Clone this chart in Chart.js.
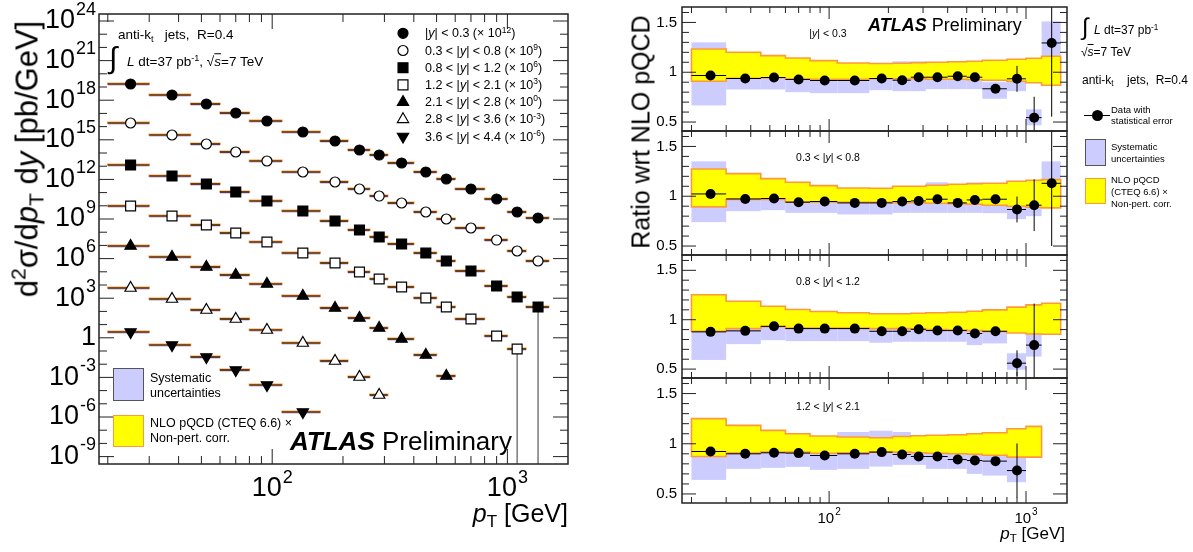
<!DOCTYPE html>
<html>
<head>
<meta charset="utf-8">
<script src="https://cdn.jsdelivr.net/npm/chart.js"></script>
<style>
body { margin: 0; background: #fff; width: 1193px; height: 552px; overflow: hidden; position: relative;
  font-family: "Liberation Sans", Arial, Helvetica, sans-serif; color: #000; }
canvas { position: absolute; }
.t { position: absolute; white-space: pre; line-height: 1; transform: translateY(-50%); }
.rot { position: absolute; white-space: pre; line-height: 1; transform: translate(-50%, -50%) rotate(-90deg); }
sup, sub { font-size: 68%; line-height: 0; position: relative; vertical-align: baseline; }
sup { top: -0.55em; }
sub { top: 0.3em; }
.ol { text-decoration: overline; }
.box { position: absolute; box-sizing: border-box; }
</style>
</head>
<body>
<canvas id="spectra_chart" width="600" height="552" style="left:0;top:0"></canvas>
<canvas id="ratio_chart_0" width="440" height="552" style="left:640px;top:0"></canvas>
<canvas id="ratio_chart_1" width="440" height="552" style="left:640px;top:0"></canvas>
<canvas id="ratio_chart_2" width="440" height="552" style="left:640px;top:0"></canvas>
<canvas id="ratio_chart_3" width="440" height="552" style="left:640px;top:0"></canvas>

<!-- left plot texts -->
<div class="rot" style="left:27px;top:159px;font-size:31px">d<sup>2</sup>σ/d<i>p</i><sub>T</sub> d<i>y</i> [pb/GeV]</div>
<div class="t" style="left:568px;top:513px;font-size:25px;transform:translate(-100%,-50%)"><i>p</i><sub>T</sub> [GeV]</div>
<div class="t" style="left:118px;top:35px;font-size:13.5px">anti-k<sub>t</sub>   jets,  R=0.4</div>
<div class="t" style="left:109px;top:58px;font-size:30px">∫</div>
<div class="t" style="left:127px;top:62px;font-size:13.5px"><i>L</i> dt=37 pb<sup>-1</sup>, √<span class="ol"><i>s</i></span>=7 TeV</div>
<div id="spectra_legend"></div>
<div class="box" style="left:113px;top:368px;width:31px;height:33px;background:#ccccff;border:1px solid #555"></div>
<div class="t" style="left:150px;top:378px;font-size:12.5px">Systematic</div>
<div class="t" style="left:150px;top:393px;font-size:12.5px">uncertainties</div>
<div class="box" style="left:113px;top:415px;width:31px;height:32px;background:#ffff00;border:1.5px solid #ff9a3c"></div>
<div class="t" style="left:150px;top:423px;font-size:12.5px">NLO pQCD (CTEQ 6.6) ×</div>
<div class="t" style="left:150px;top:438px;font-size:12.5px">Non-pert. corr.</div>
<div class="t" style="left:290px;top:441px;font-size:26px"><b><i>ATLAS</i></b> Preliminary</div>

<!-- right plot texts -->
<div class="rot" style="left:641px;top:132px;font-size:25px">Ratio wrt NLO pQCD</div>
<div id="panel_labels"></div>
<div class="t" style="left:868px;top:25px;font-size:18px"><b><i>ATLAS</i></b> Preliminary</div>
<div class="t" style="left:1082px;top:27px;font-size:24px">∫</div>
<div class="t" style="left:1094px;top:30px;font-size:12px"><i>L</i> dt=37 pb<sup>-1</sup></div>
<div class="t" style="left:1081px;top:52px;font-size:12px">√<span class="ol"><i>s</i></span>=7 TeV</div>
<div class="t" style="left:1082px;top:80px;font-size:12px">anti-k<sub>t</sub>    jets,  R=0.4</div>
<div class="box" style="left:1084px;top:115px;width:26px;height:1px;background:#000"></div>
<div class="box" style="left:1092px;top:110px;width:11px;height:11px;border-radius:50%;background:#000"></div>
<div class="t" style="left:1111px;top:110px;font-size:9.5px">Data with</div>
<div class="t" style="left:1111px;top:121px;font-size:9.5px">statistical error</div>
<div class="box" style="left:1085px;top:139px;width:21px;height:27px;background:#ccccff;border:1px solid #555"></div>
<div class="t" style="left:1111px;top:147px;font-size:9.5px">Systematic</div>
<div class="t" style="left:1111px;top:159px;font-size:9.5px">uncertainties</div>
<div class="box" style="left:1085px;top:178px;width:21px;height:26px;background:#ffff00;border:1.5px solid #ff9a3c"></div>
<div class="t" style="left:1111px;top:180px;font-size:9.5px">NLO pQCD</div>
<div class="t" style="left:1111px;top:192px;font-size:9.5px">(CTEQ 6.6) ×</div>
<div class="t" style="left:1111px;top:204px;font-size:9.5px">Non-pert. corr.</div>
<div class="t" style="left:1065px;top:533px;font-size:17px;transform:translate(-100%,-50%)"><i>p</i><sub>T</sub> [GeV]</div>

<script>
// pT bin edges [GeV], shared by every distribution
const bin_edges = [20, 30, 45, 60, 80, 110, 160, 210, 260, 310, 400, 500, 600, 800, 1000, 1200, 1500];

// |y| ranges and the power of ten each spectrum is multiplied by on the left
const rapidity_bins = [[0, 0.3], [0.3, 0.8], [0.8, 1.2], [1.2, 2.1], [2.1, 2.8], [2.8, 3.6], [3.6, 4.4]];
const scale_exponents = [12, 9, 6, 3, 0, -3, -6];

// d2sigma/dpT dy [pb/GeV], one value per pT bin from 20 GeV up
const xsec_y03 = [1.69e7, 2.48e6, 5.15e5, 1.07e5, 2.66e4, 3.9e3, 811, 169, 70.5, 17.5, 3.64, 1.07, 0.187, 0.0327, 3.39e-3, 1.19e-3];
const xsec_y08 = [1.88e7, 2.31e6, 4.81e5, 1.19e5, 2.48e4, 3.64e3, 635, 188, 55.2, 16.3, 3.39, 1.0, 0.208, 0.0256, 3.77e-3, 6.58e-4];
const xsec_y12 = [1.23e7, 1.81e6, 4.49e5, 1.11e5, 2.31e4, 4.04e3, 705, 147, 43.3, 12.8, 2.65, 0.658, 0.115, 8.4e-3, 1.23e-3, 2.15e-4];
const xsec_y21 = [9.66e6, 1.69e6, 3.51e5, 8.69e4, 1.81e4, 2.65e3, 464, 96.6, 28.5, 7.05, 1.04, 0.215, 0.0265, 1.37e-3, 1.42e-4];
const xsec_y28 = [9.0e6, 1.32e6, 2.31e5, 5.73e4, 1.19e4, 1.47e3, 181, 31.6, 5.52, 0.811, 0.0498, 1.28e-3];
const xsec_y36 = [5.93e6, 8.69e5, 1.28e5, 2.66e4, 3.9e3, 404, 17.5, 1.07, 0.0464];
const xsec_y44 = [2.75e6, 2.85e5, 3.51e4, 3.64e3, 266, 2.39];
const spectra = [xsec_y03, xsec_y08, xsec_y12, xsec_y21, xsec_y28, xsec_y36, xsec_y44];

// points whose lower stat. error runs off the bottom: [spectrum, bin]
const long_errors = [[2, 15], [3, 14]];

// data / NLO ratios, stat. errors, systematic and theory bands
const ratio_y03 = [0.967, 0.937, 0.947, 0.927, 0.917, 0.917, 0.937, 0.92, 0.95, 0.95, 0.96, 0.95, 0.834, 0.934, 0.544, 1.294];
const stat_y03 = [0.01, 0.01, 0.01, 0.01, 0.01, 0.01, 0.01, 0.01, 0.01, 0.012, 0.015, 0.02, 0.035, 0.13, 0.21, 0.74];
const syst_lo_y03 = [0.667, 0.827, 0.827, 0.80, 0.79, 0.79, 0.82, 0.81, 0.81, 0.83, 0.83, 0.83, 0.734, 0.81, 0.467, 1.0];
const syst_hi_y03 = [1.30, 1.04, 1.05, 1.05, 1.04, 1.04, 1.06, 1.11, 1.11, 1.09, 1.09, 1.09, 0.90, 1.11, 0.627, 1.51];
const nlo_lo_y03 = [0.91, 0.94, 0.945, 0.935, 0.93, 0.93, 0.935, 0.935, 0.935, 0.93, 0.93, 0.925, 0.92, 0.91, 0.895, 0.87];
const nlo_hi_y03 = [1.234, 1.20, 1.167, 1.143, 1.117, 1.093, 1.087, 1.09, 1.095, 1.10, 1.105, 1.11, 1.12, 1.13, 1.14, 1.16];

const ratio_y08 = [1.023, 0.973, 0.977, 0.94, 0.947, 0.933, 0.933, 0.947, 0.953, 0.97, 0.933, 0.963, 0.97, 0.867, 0.91, 1.13];
const stat_y08 = [0.01, 0.01, 0.01, 0.01, 0.01, 0.01, 0.01, 0.01, 0.01, 0.012, 0.015, 0.02, 0.03, 0.13, 0.26, 0.63];
const syst_lo_y08 = [0.74, 0.85, 0.86, 0.833, 0.833, 0.817, 0.817, 0.833, 0.833, 0.833, 0.833, 0.833, 0.83, 0.77, 0.80, 0.95];
const syst_hi_y08 = [1.35, 1.08, 1.09, 1.06, 1.06, 1.06, 1.06, 1.08, 1.08, 1.14, 1.10, 1.14, 1.12, 0.99, 0.97, 1.35];
const nlo_lo_y08 = [0.893, 0.967, 0.967, 0.943, 0.943, 0.94, 0.94, 0.935, 0.935, 0.93, 0.925, 0.92, 0.91, 0.90, 0.89, 0.883];
const nlo_hi_y08 = [1.273, 1.227, 1.177, 1.14, 1.107, 1.083, 1.08, 1.10, 1.10, 1.11, 1.12, 1.125, 1.13, 1.15, 1.16, 1.167];

const ratio_y12 = [0.877, 0.887, 0.933, 0.91, 0.91, 0.91, 0.883, 0.883, 0.903, 0.89, 0.89, 0.86, 0.883, 0.56, 0.743];
const stat_y12 = [0.01, 0.01, 0.01, 0.01, 0.01, 0.01, 0.01, 0.01, 0.012, 0.015, 0.02, 0.025, 0.04, 0.13, 0.42];
const syst_lo_y12 = [0.593, 0.753, 0.793, 0.783, 0.783, 0.783, 0.767, 0.777, 0.777, 0.777, 0.777, 0.743, 0.76, 0.493, 0.627];
const syst_hi_y12 = [1.15, 1.02, 1.06, 1.04, 1.04, 1.04, 1.0, 1.0, 1.03, 1.0, 1.0, 0.98, 1.0, 0.66, 0.867];
const nlo_lo_y12 = [0.883, 0.91, 0.93, 0.915, 0.915, 0.915, 0.91, 0.91, 0.905, 0.90, 0.895, 0.89, 0.88, 0.865, 0.855, 0.853];
const nlo_hi_y12 = [1.253, 1.187, 1.137, 1.103, 1.083, 1.07, 1.06, 1.06, 1.065, 1.07, 1.075, 1.085, 1.10, 1.127, 1.15, 1.167];

const ratio_y21 = [0.923, 0.90, 0.91, 0.907, 0.883, 0.90, 0.917, 0.893, 0.873, 0.873, 0.843, 0.833, 0.827, 0.733];
const stat_y21 = [0.01, 0.01, 0.01, 0.01, 0.01, 0.01, 0.01, 0.012, 0.015, 0.02, 0.025, 0.03, 0.04, 0.27];
const syst_lo_y21 = [0.64, 0.75, 0.76, 0.77, 0.74, 0.75, 0.773, 0.79, 0.79, 0.75, 0.75, 0.70, 0.683, 0.617];
const syst_hi_y21 = [1.20, 1.05, 1.06, 1.04, 1.03, 1.117, 1.13, 1.117, 1.0, 1.0, 0.98, 0.97, 0.97, 0.867];
const nlo_lo_y21 = [0.873, 0.907, 0.917, 0.917, 0.905, 0.91, 0.917, 0.917, 0.91, 0.905, 0.90, 0.895, 0.885, 0.867, 0.867];
const nlo_hi_y21 = [1.25, 1.183, 1.133, 1.10, 1.077, 1.067, 1.06, 1.073, 1.08, 1.085, 1.09, 1.10, 1.11, 1.15, 1.173];

// axis ticks
const pt_minor_ticks = [20, 30, 40, 50, 60, 70, 80, 90, 200, 300, 400, 500, 600, 700, 800, 900];
const pt_label_exponents = [2, 3];
const xsec_label_exponents = [24, 21, 18, 15, 12, 9, 6, 3, 0, -3, -6, -9];
const ratio_tick_labels = ['0.5', '1', '1.5'];

const font_family = '"Liberation Sans", Arial, Helvetica, sans-serif';
const syst_color = '#ccccff';
const nlo_fill = '#ffff00';
const nlo_line = '#ff9a3c';
const frame_color = '#222';

const marker_styles = [
  {pointStyle: 'circle', filled: true, radius: 5},
  {pointStyle: 'circle', filled: false, radius: 5},
  {pointStyle: 'rect', filled: true, radius: 7},
  {pointStyle: 'rect', filled: false, radius: 7},
  {pointStyle: 'triangle', filled: true, radius: 6.5, rotation: 0},
  {pointStyle: 'triangle', filled: false, radius: 6.5, rotation: 0},
  {pointStyle: 'triangle', filled: true, radius: 6.5, rotation: 180}
];

function rapidity_html(b) {
  return b[0] === 0 ? `|<i>y</i>| &lt; ${b[1]}` : `${b[0]} &lt; |<i>y</i>| &lt; ${b[1]}`;
}

// legend text of the spectra plot
document.getElementById('spectra_legend').innerHTML = rapidity_bins.map((b, i) =>
  `<div class="t" style="left:425px;top:${33.3 + i * 17.2}px;font-size:12.5px">${rapidity_html(b)} (× 10<sup>${scale_exponents[i]}</sup>)</div>`
).join('');

// labels inside the ratio panels
const panel_label_y = [33, 157, 281, 406];
document.getElementById('panel_labels').innerHTML = panel_label_y.map((py, i) =>
  `<div class="t" style="left:828px;top:${py}px;font-size:10.5px;transform:translate(-50%,-50%)">${rapidity_html(rapidity_bins[i])}</div>`
).join('');

function line(ctx, x0, y0, x1, y1) {
  ctx.beginPath(); ctx.moveTo(x0, y0); ctx.lineTo(x1, y1); ctx.stroke();
}

function draw_marker(ctx, st, x, y) {
  const r = st.radius;
  ctx.beginPath();
  if (st.pointStyle === 'circle') {
    ctx.arc(x, y, r, 0, 2 * Math.PI);
  } else if (st.pointStyle === 'rect') {
    const s = r * Math.SQRT1_2;
    ctx.rect(x - s, y - s, 2 * s, 2 * s);
  } else {
    let rad = (st.rotation || 0) * Math.PI / 180;
    ctx.moveTo(x + Math.sin(rad) * r, y - Math.cos(rad) * r);
    rad += 2 * Math.PI / 3;
    ctx.lineTo(x + Math.sin(rad) * r, y - Math.cos(rad) * r);
    rad += 2 * Math.PI / 3;
    ctx.lineTo(x + Math.sin(rad) * r, y - Math.cos(rad) * r);
    ctx.closePath();
  }
  ctx.fillStyle = st.filled ? '#000' : '#fff';
  ctx.fill();
  ctx.lineWidth = 1.2;
  ctx.strokeStyle = '#000';
  ctx.stroke();
}

// "10^n" label, x is right edge or centre
function draw_power(ctx, exp, x, y, align, big, small) {
  const base = exp === 0 ? '1' : '10';
  const sup = exp === 0 ? '' : String(exp);
  ctx.font = `${big}px ${font_family}`;
  const wb = ctx.measureText(base).width;
  ctx.font = `${small}px ${font_family}`;
  const ws = sup ? ctx.measureText(sup).width + 1 : 0;
  const x0 = align === 'right' ? x - wb - ws : x - (wb + ws) / 2;
  ctx.fillStyle = '#000';
  ctx.textAlign = 'left';
  ctx.textBaseline = 'middle';
  ctx.font = `${big}px ${font_family}`;
  ctx.fillText(base, x0, y);
  if (sup) {
    ctx.font = `${small}px ${font_family}`;
    ctx.fillText(sup, x0 + wb + 1, y - big * 0.42);
  }
}

// frame plus ROOT style inward ticks on all four sides
function draw_frame(chart, x_ticks, y_ticks) {
  const {ctx, chartArea: a, scales: {x, y}} = chart;
  ctx.save();
  ctx.strokeStyle = frame_color;
  ctx.lineWidth = 1;
  x_ticks.forEach(([v, len]) => {
    const px = x.getPixelForValue(v);
    if (px < a.left || px > a.right) return;
    line(ctx, px, a.bottom, px, a.bottom - len);
    line(ctx, px, a.top, px, a.top + len);
  });
  y_ticks.forEach(([v, len]) => {
    const py = y.getPixelForValue(v);
    if (py < a.top || py > a.bottom) return;
    line(ctx, a.left, py, a.left + len, py);
    line(ctx, a.right, py, a.right - len, py);
  });
  ctx.lineWidth = 1.5;
  ctx.strokeRect(a.left, a.top, a.right - a.left, a.bottom - a.top);
  ctx.restore();
}

function pt_ticks(minor_len, major_len) {
  return pt_minor_ticks.map(v => [v, minor_len]).concat(pt_label_exponents.map(e => [Math.pow(10, e), major_len]));
}

// ---------------- left: spectra ----------------
const spectra_plugin = {
  id: 'spectra_extras',
  beforeDatasetsDraw(chart) {
    const {ctx, chartArea: a, scales: {x, y}} = chart;
    ctx.save();
    ctx.beginPath();
    ctx.rect(a.left, a.top, a.right - a.left, a.bottom - a.top);
    ctx.clip();
    spectra.forEach((s, si) => {
      const mult = Math.pow(10, scale_exponents[si]);
      s.forEach((v, i) => {
        const val = v * mult;
        const x0 = x.getPixelForValue(bin_edges[i]);
        const x1 = x.getPixelForValue(bin_edges[i + 1]);
        const sy0 = y.getPixelForValue(val * 1.05), sy1 = y.getPixelForValue(val * 0.72);
        ctx.fillStyle = syst_color;
        ctx.fillRect(x0, sy0, x1 - x0, sy1 - sy0);
        const ty0 = y.getPixelForValue(val * 1.14), ty1 = y.getPixelForValue(val * 0.97);
        ctx.fillStyle = nlo_fill;
        ctx.fillRect(x0, ty0, x1 - x0, ty1 - ty0);
        ctx.strokeStyle = nlo_line;
        ctx.lineWidth = 1.5;
        ctx.strokeRect(x0, ty0, x1 - x0, ty1 - ty0);
        ctx.strokeStyle = '#000';
        ctx.lineWidth = 1.2;
        const py = y.getPixelForValue(val);
        line(ctx, x0, py, x1, py);
      });
    });
    ctx.strokeStyle = '#666';
    ctx.lineWidth = 1.3;
    long_errors.forEach(([si, i]) => {
      const val = spectra[si][i] * Math.pow(10, scale_exponents[si]);
      const px = x.getPixelForValue((bin_edges[i] + bin_edges[i + 1]) / 2);
      line(ctx, px, y.getPixelForValue(val), px, a.bottom);
    });
    ctx.restore();
  },
  afterDraw(chart) {
    const {ctx, chartArea: a, scales: {x, y}} = chart;
    const y_ticks = [];
    for (let e = -9; e <= 24; e++) y_ticks.push([Math.pow(10, e), e % 3 === 0 ? 15 : 8]);
    draw_frame(chart, pt_ticks(8, 15), y_ticks);
    ctx.save();
    xsec_label_exponents.forEach(e => draw_power(ctx, e, a.left - 3, y.getPixelForValue(Math.pow(10, e)), 'right', 27, 18));
    pt_label_exponents.forEach(e => draw_power(ctx, e, x.getPixelForValue(Math.pow(10, e)), 489, 'center', 27, 18));
    // legend markers
    marker_styles.forEach((st, i) => draw_marker(ctx, st, 403, 33.3 + i * 17.2));
    ctx.restore();
  }
};

new Chart(document.getElementById('spectra_chart'), {
  type: 'scatter',
  data: {
    datasets: spectra.map((s, si) => ({
      data: s.map((v, i) => ({x: (bin_edges[i] + bin_edges[i + 1]) / 2, y: v * Math.pow(10, scale_exponents[si])})),
      pointStyle: marker_styles[si].pointStyle,
      rotation: marker_styles[si].rotation || 0,
      pointRadius: marker_styles[si].radius,
      pointBackgroundColor: marker_styles[si].filled ? '#000' : '#fff',
      pointBorderColor: '#000',
      pointBorderWidth: 1.2,
      showLine: false
    }))
  },
  options: {
    responsive: false,
    animation: false,
    devicePixelRatio: 1,
    events: [],
    layout: {padding: {left: 99, right: 32, top: 14, bottom: 88}},
    plugins: {legend: {display: false}, tooltip: {enabled: false}},
    scales: {
      x: {type: 'logarithmic', display: false, bounds: 'data', min: 18.35, max: 1810},
      y: {type: 'logarithmic', display: false, bounds: 'data', min: 2.75e-10, max: 3.4e24}
    }
  },
  plugins: [spectra_plugin]
});

// ---------------- right: ratio panels ----------------
const ratio_panels = [
  {ratio: ratio_y03, stat: stat_y03, syst_lo: syst_lo_y03, syst_hi: syst_hi_y03, nlo_lo: nlo_lo_y03, nlo_hi: nlo_hi_y03},
  {ratio: ratio_y08, stat: stat_y08, syst_lo: syst_lo_y08, syst_hi: syst_hi_y08, nlo_lo: nlo_lo_y08, nlo_hi: nlo_hi_y08},
  {ratio: ratio_y12, stat: stat_y12, syst_lo: syst_lo_y12, syst_hi: syst_hi_y12, nlo_lo: nlo_lo_y12, nlo_hi: nlo_hi_y12},
  {ratio: ratio_y21, stat: stat_y21, syst_lo: syst_lo_y21, syst_hi: syst_hi_y21, nlo_lo: nlo_lo_y21, nlo_hi: nlo_hi_y21}
];
const panel_tops = [7, 131, 255, 378];
const panel_bottoms = [131, 255, 378, 503];

function make_ratio_plugin(p, is_bottom) {
  return {
    id: 'ratio_extras',
    beforeDatasetsDraw(chart) {
      const {ctx, chartArea: a, scales: {x, y}} = chart;
      const ex = i => x.getPixelForValue(bin_edges[i]);
      ctx.save();
      ctx.beginPath();
      ctx.rect(a.left, a.top, a.right - a.left, a.bottom - a.top);
      ctx.clip();
      // systematic boxes
      ctx.fillStyle = syst_color;
      p.syst_lo.forEach((lo, i) => {
        const y0 = y.getPixelForValue(p.syst_hi[i]), y1 = y.getPixelForValue(lo);
        ctx.fillRect(ex(i), y0, ex(i + 1) - ex(i), y1 - y0);
      });
      // NLO band
      const n = p.nlo_hi.length;
      ctx.beginPath();
      ctx.moveTo(ex(0), y.getPixelForValue(p.nlo_hi[0]));
      for (let i = 0; i < n; i++) {
        ctx.lineTo(ex(i), y.getPixelForValue(p.nlo_hi[i]));
        ctx.lineTo(ex(i + 1), y.getPixelForValue(p.nlo_hi[i]));
      }
      for (let i = n - 1; i >= 0; i--) {
        ctx.lineTo(ex(i + 1), y.getPixelForValue(p.nlo_lo[i]));
        ctx.lineTo(ex(i), y.getPixelForValue(p.nlo_lo[i]));
      }
      ctx.closePath();
      ctx.fillStyle = nlo_fill;
      ctx.fill();
      ctx.strokeStyle = nlo_line;
      ctx.lineWidth = 1.6;
      ctx.stroke();
      // bin width and stat. error bars
      ctx.strokeStyle = '#000';
      ctx.lineWidth = 1;
      p.ratio.forEach((r, i) => {
        const py = y.getPixelForValue(r);
        line(ctx, ex(i), py, ex(i + 1), py);
        const px = x.getPixelForValue((bin_edges[i] + bin_edges[i + 1]) / 2);
        line(ctx, px, y.getPixelForValue(r + p.stat[i]), px, y.getPixelForValue(r - p.stat[i]));
      });
      ctx.restore();
    },
    afterDraw(chart) {
      const {ctx, chartArea: a, scales: {x, y}} = chart;
      const y_ticks = [];
      for (let k = 5; k <= 16; k++) y_ticks.push([k / 10, k % 5 === 0 ? 14 : 7]);
      draw_frame(chart, pt_ticks(6, 12), y_ticks);
      ctx.save();
      ctx.fillStyle = '#000';
      ctx.font = `15px ${font_family}`;
      ctx.textAlign = 'right';
      ctx.textBaseline = 'middle';
      ratio_tick_labels.forEach(t => ctx.fillText(t, a.left - 5, y.getPixelForValue(parseFloat(t))));
      if (is_bottom) {
        pt_label_exponents.forEach(e => draw_power(ctx, e, x.getPixelForValue(Math.pow(10, e)), 519, 'center', 15, 10));
      }
      ctx.restore();
    }
  };
}

ratio_panels.forEach((p, k) => {
  new Chart(document.getElementById('ratio_chart_' + k), {
    type: 'scatter',
    data: {
      datasets: [{
        data: p.ratio.map((r, i) => ({x: (bin_edges[i] + bin_edges[i + 1]) / 2, y: r})),
        pointStyle: 'circle',
        pointRadius: 5,
        pointBackgroundColor: '#000',
        pointBorderColor: '#000',
        pointBorderWidth: 0,
        showLine: false
      }]
    },
    options: {
      responsive: false,
      animation: false,
      devicePixelRatio: 1,
      events: [],
      layout: {padding: {left: 42, right: 13, top: panel_tops[k], bottom: 552 - panel_bottoms[k]}},
      plugins: {legend: {display: false}, tooltip: {enabled: false}},
      scales: {
        x: {type: 'logarithmic', display: false, bounds: 'data', min: 17.9, max: 1615},
        y: {type: 'linear', display: false, bounds: 'data', min: 0.41, max: 1.655}
      }
    },
    plugins: [make_ratio_plugin(p, k === 3)]
  });
});
</script>
</body>
</html>
